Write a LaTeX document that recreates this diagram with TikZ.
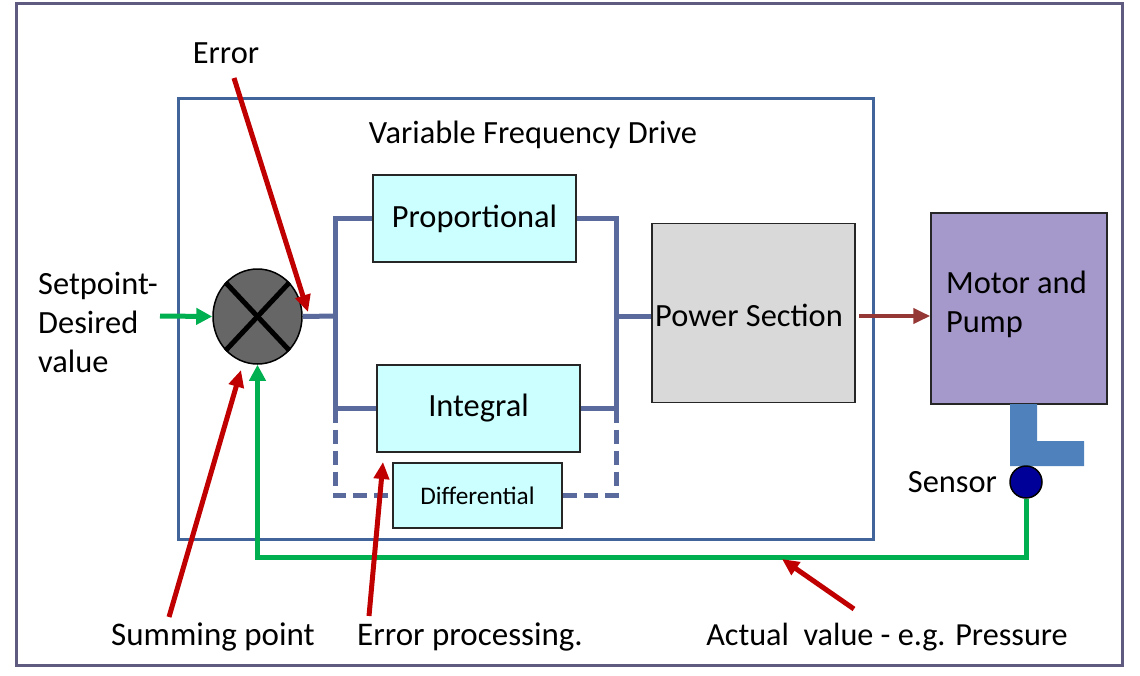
\documentclass[tikz,border=0pt]{standalone}
\usepackage{fontspec}
\setmainfont{Carlito}
\usetikzlibrary{positioning,shapes.geometric,arrows.meta}
\definecolor{framegray}{HTML}{5E5A80}
\definecolor{vfdblue}{HTML}{41649A}
\definecolor{busblue}{HTML}{5B6A9C}
\definecolor{fbgreen}{HTML}{00B050}
\definecolor{ptrred}{HTML}{C00000}
\definecolor{drivebrown}{HTML}{953735}
\definecolor{pidcyan}{HTML}{CCFFFF}
\definecolor{powergray}{HTML}{D9D9D9}
\definecolor{motorlilac}{HTML}{A598CA}
\definecolor{pipeblue}{HTML}{4F81BD}
\definecolor{sensorblue}{HTML}{000099}
\tikzset{%
  txt/.style={inner sep=0pt,font=\fontsize{32.4}{39}\selectfont},
  block/.style={rectangle,draw=black!85,line width=1.5pt,inner sep=0pt,
    font=\fontsize{32.4}{39}\selectfont},
  pid/.style={block,fill=pidcyan,minimum width=203pt,minimum height=87pt},
  bus/.style={draw=busblue,line width=5pt},
  feedback/.style={draw=fbgreen,line width=5pt},
  pointer/.style={draw=ptrred,line width=5pt,-{Triangle[length=17pt,width=15pt]}}
}
\begin{document}
\begin{tikzpicture}[x=1pt,y=-1pt]
  \useasboundingbox (0,0) rectangle (1140,675);
  \draw[framegray,line width=3pt] (16,3) rectangle (1122,665);

  % drive box and its blocks
  \node[rectangle,draw=vfdblue,line width=3pt,minimum width=695pt,
    minimum height=441pt] (vfd) at (525.5,318.5) {};
  \node[txt] (vfdlabel) at (533,135) {Variable Frequency Drive};
  \node[ellipse,draw=black,line width=1.5pt,fill=black!60,inner sep=0pt,
    minimum width=89pt,minimum height=95pt] (sum) at (257.5,316.5) {};
  \draw[line width=5pt] (sum.north west) -- (sum.south east);
  \draw[line width=5pt] (sum.north east) -- (sum.south west);
  \node[pid] (prop) at (474.5,218.5) {Proportional};
  \node[pid] (int) at (478.5,408.5) {Integral};
  \node[pid,minimum width=169pt,minimum height=65pt,
    font=\fontsize{25.3}{30}\selectfont] (diff) at (477.5,495.5) {Differential};
  \node[block,fill=powergray,minimum width=203pt,minimum height=179pt]
    (power) at (753.5,313) {};
  \node[txt] (powerlabel) at (749,315) {Power Section};

  % motor, pipe and sensor
  \node[block,fill=motorlilac,minimum width=176pt,minimum height=191pt]
    (motor) at (1019,308.5) {};
  \node[txt,align=left,anchor=north west] (motorlabel) at (946,271)
    {Motor and\\Pump};
  \fill[pipeblue] (1010,404) -- (1037,404) -- (1037,441) -- (1084,441)
    -- (1084,466) -- (1010,466) -- cycle;
  \node[circle,draw=black,line width=1.5pt,fill=sensorblue,inner sep=0pt,
    minimum size=32pt] (sensor) at (1026,482) {};
  \node[txt] (sensorlabel) [left=12pt of sensor] {Sensor};

  % signal paths
  \coordinate (jl) at (335,316);
  \coordinate (jr) at (616,316);
  \draw[bus] (sum.east) -- (jl);
  \draw[bus] (prop.west) -| (jl) |- (int.west);
  \draw[bus,dash pattern=on 14pt off 7pt] (jl |- int.west) |- (diff.west);
  \draw[bus] (prop.east) -| (jr) |- (int.east);
  \draw[bus,dash pattern=on 14pt off 7pt] (jr |- int.east) |- (diff.east);
  \draw[bus] (jr) -- (jr -| power.west);
  \draw[drivebrown,line width=4pt,-{Triangle[length=17pt,width=15pt]}]
    ([xshift=3pt]power.east |- jr) -- (motor.west |- jr);

  \node[txt,align=left,anchor=north west] (setpoint) at (38,272)
    {Setpoint-\\Desired\\value};
  \coordinate (spin) at (160,316);
  \draw[feedback,-{Triangle[length=16pt,width=16pt]}] (spin) -- (sum.west);
  \coordinate (fbc) at (0,557);
  \draw[feedback,-{Triangle[length=16pt,width=16pt]}]
    (sensor.south) -- (sensor.south |- fbc) -| (sum.south);

  % labels and pointers
  \node[txt] (errlabel) at (226,53) {Error};
  \node[txt,font=\fontsize{33}{39}\selectfont] (sumlabel) at (213,637)
    {Summing point};
  \node[txt,font=\fontsize{33}{39}\selectfont] (proclabel) at (470,637)
    {Error processing.};
  \node[txt,font=\fontsize{32.2}{39}\selectfont] (actlabel) at (887,637)
    {Actual\ \ value - e.g. Pressure};
  \coordinate (errtail) at (234,78);
  \coordinate (errtip) at (308,312);
  \coordinate (sumtail) at (169,617);
  \coordinate (sumtip) at (241,370);
  \coordinate (proctail) at (369,616);
  \coordinate (proctip) at (383,462);
  \coordinate (acttail) at (854,609);
  \coordinate (acttip) at (782,559);
  \draw[pointer] (errtail) -- (errtip);
  \draw[pointer] (sumtail) -- (sumtip);
  \draw[pointer] (proctail) -- (proctip);
  \draw[pointer] (acttail) -- (acttip);
\end{tikzpicture}
\end{document}
